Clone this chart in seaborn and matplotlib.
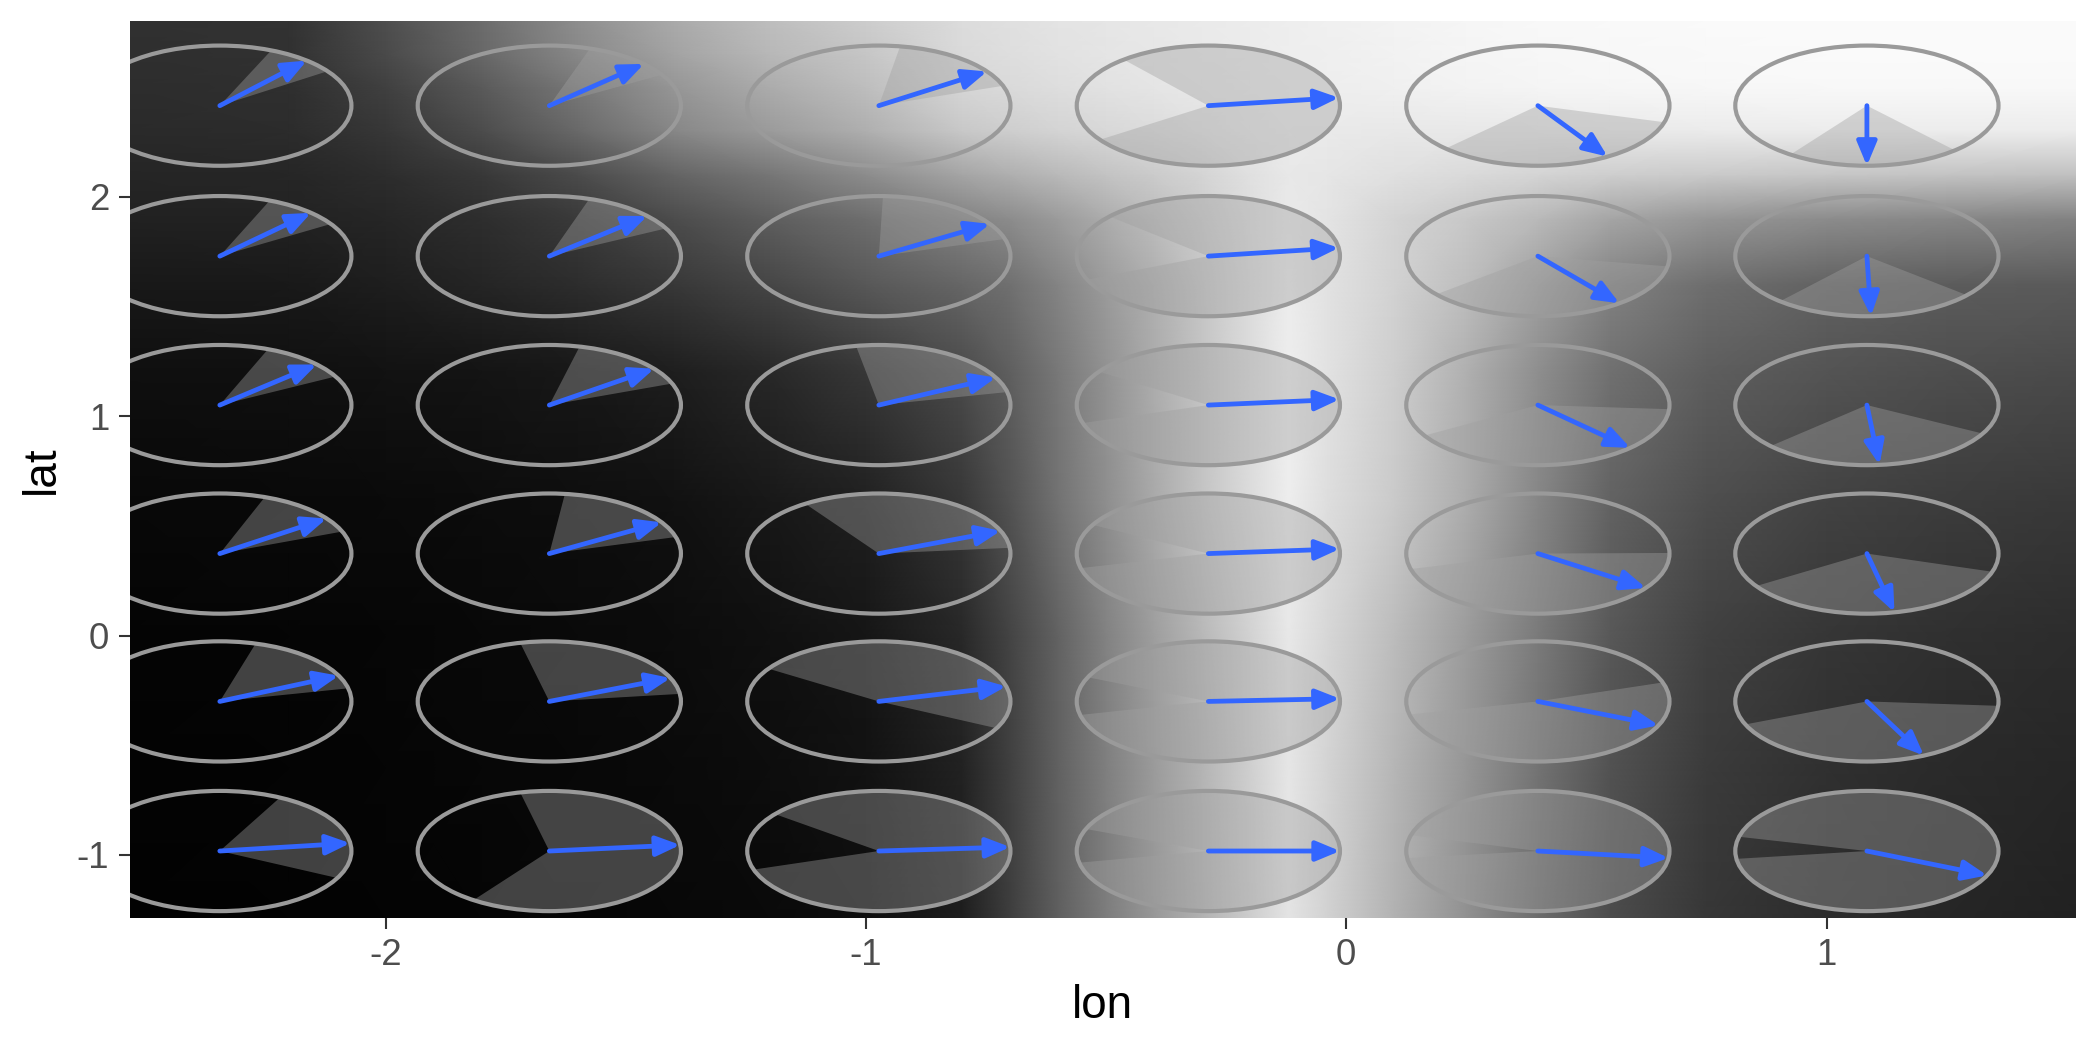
import numpy as np
import matplotlib
matplotlib.use('Agg')
import matplotlib.pyplot as plt
import seaborn as sns
from matplotlib.patches import Wedge, Circle

# centres of the 6 x 6 glyphs
lon_centres = [-2.345, -1.659, -0.973, -0.287, 0.399, 1.084]
lat_centres = [2.416, 1.730, 1.051, 0.374, -0.300, -0.982]   # top row first
glyph_radius = 0.274

# arrow direction (degrees, data space), one row per lat_centres entry
arrow_angle = [
    [48.6, 44.0, 34.7, 7.6, -58.0, -90.0],
    [46.1, 41.9, 32.4, 7.9, -51.7, -88.2],
    [42.5, 37.2, 27.2, 5.4, -45.4, -84.5],
    [35.7, 31.3, 22.2, 4.4, -34.8, -77.9],
    [25.3, 22.9, 14.5, 2.6, -23.4, -64.3],
    [7.5, 5.8, 3.8, 0.0, -6.7, -23.9],
]

# wedge (interval of directions), counter-clockwise from wedge_from to wedge_to
wedge_from = [
    [35.0, 31.0, 19.3, -145.5, -134.5, -125.5],
    [32.4, 27.5, 16.6, -157.0, -140.5, -131.3],
    [28.4, 21.0, 12.5, -162.6, -149.5, -137.0],
    [21.5, 16.0, 5.5, -166.0, -165.1, -147.3],
    [12.6, 7.2, -26.5, -167.0, -167.4, -157.5],
    [-26.7, -125.2, -162.0, -168.8, -173.3, -172.5],
]
wedge_to = [
    [67.0, 72.0, 80.7, 130.0, -16.0, -48.0],
    [67.7, 72.3, 88.2, 138.7, -9.8, -40.5],
    [68.5, 76.7, 100.0, 146.2, -3.9, -28.3],
    [70.0, 83.2, 124.0, 151.5, 0.6, -17.6],
    [74.2, 102.8, 147.0, 156.3, 18.4, -4.2],
    [62.8, 102.8, 142.1, 158.5, 164.7, 166.3],
]

# background raster: grey level (0-255)
bg_lon = [-2.54, -2.2, -2.0, -1.8, -1.6, -1.4, -1.2, -1.0, -0.8, -0.7, -0.6, -0.5,
          -0.4, -0.3, -0.2, -0.12, -0.04, 0.1, 0.25, 0.4, 0.55, 0.75, 1.0, 1.25, 1.53]
bg_lat = [-1.29, -0.6, 0.0, 0.6, 1.2, 1.6, 1.9, 2.1, 2.3, 2.5, 2.65, 2.81]
bg_grey = [
    [2, 3, 4, 5, 6, 8, 10, 14, 30, 62, 95, 125, 152, 178, 205, 228, 210, 178, 145, 108, 76, 55, 44, 38, 33],
    [3, 4, 5, 7, 8, 10, 13, 18, 34, 64, 97, 127, 155, 180, 207, 230, 212, 182, 150, 115, 82, 59, 48, 42, 38],
    [4, 5, 6, 8, 10, 12, 16, 22, 40, 68, 98, 130, 158, 184, 210, 232, 215, 188, 156, 122, 88, 65, 54, 48, 44],
    [8, 9, 10, 12, 14, 17, 24, 32, 55, 82, 114, 142, 170, 196, 220, 238, 222, 202, 172, 134, 98, 78, 66, 60, 56],
    [15, 16, 18, 20, 24, 30, 40, 55, 75, 95, 120, 146, 172, 196, 220, 238, 226, 206, 176, 142, 112, 94, 84, 78, 74],
    [24, 25, 30, 37, 45, 56, 70, 88, 102, 112, 132, 155, 175, 198, 220, 236, 226, 210, 190, 160, 130, 110, 98, 92, 90],
    [33, 34, 38, 46, 58, 76, 94, 110, 130, 140, 155, 172, 188, 205, 222, 234, 228, 212, 200, 185, 165, 150, 140, 135, 130],
    [37, 38, 45, 56, 75, 100, 118, 140, 165, 175, 185, 195, 203, 212, 224, 232, 230, 224, 218, 212, 206, 202, 198, 195, 192],
    [42, 44, 55, 76, 105, 135, 155, 175, 200, 206, 212, 216, 220, 226, 232, 235, 234, 232, 232, 233, 234, 235, 236, 236, 236],
    [45, 47, 64, 90, 120, 150, 172, 190, 214, 218, 222, 226, 229, 232, 235, 237, 238, 240, 243, 245, 246, 247, 248, 248, 248],
    [47, 49, 74, 104, 136, 163, 184, 198, 218, 222, 226, 229, 231, 234, 236, 238, 239, 242, 245, 247, 248, 249, 250, 250, 250],
    [48, 50, 78, 108, 142, 170, 190, 205, 220, 224, 228, 230, 232, 234, 236, 238, 240, 243, 246, 248, 249, 250, 250, 250, 250],
]

sns.set_theme(style='ticks')
plt.rcParams['font.family'] = ['Liberation Sans', 'DejaVu Sans']
plt.rcParams['axes.unicode_minus'] = False

fig, ax = plt.subplots(figsize=(7, 3.5), dpi=300)
fig.subplots_adjust(left=0.0619, right=0.9885, bottom=0.126, top=0.980)

lon_grid, lat_grid = np.meshgrid(bg_lon, bg_lat)
ax.pcolormesh(lon_grid, lat_grid, np.array(bg_grey, dtype=float), cmap='gray',
              vmin=0, vmax=255, shading='gouraud', zorder=0, rasterized=True)

for i, lat in enumerate(lat_centres):
    for j, lon in enumerate(lon_centres):
        ax.add_patch(Wedge((lon, lat), glyph_radius, wedge_from[i][j], wedge_to[i][j],
                           facecolor='#a0a0a0', alpha=0.4, edgecolor='none', zorder=2))
        ax.add_patch(Circle((lon, lat), glyph_radius, fill=False,
                            edgecolor='#9a9a9a', lw=1.0, zorder=3))
        a = np.deg2rad(arrow_angle[i][j])
        tip = (lon + glyph_radius * np.cos(a), lat + glyph_radius * np.sin(a))
        ax.annotate('', xy=tip, xytext=(lon, lat), zorder=4,
                    arrowprops=dict(arrowstyle='-|>,head_length=0.48,head_width=0.2',
                                    color='#3366FF', lw=1.15, shrinkA=0, shrinkB=0,
                                    mutation_scale=10))

ax.set_xlim(-2.532, 1.519)
ax.set_ylim(-1.286, 2.802)
ax.set_xticks([-2, -1, 0, 1])
ax.set_yticks([-1, 0, 1, 2])
ax.tick_params(axis='both', length=2.75, width=0.5, color='#333333',
               labelcolor='#4D4D4D', labelsize=8.8, pad=2.2)
ax.set_xlabel('lon', fontsize=11, color='black', labelpad=2.5)
ax.set_ylabel('lat', fontsize=11, color='black', labelpad=3)
sns.despine(ax=ax, left=True, bottom=True)

fig.savefig('out.png', dpi=300)
